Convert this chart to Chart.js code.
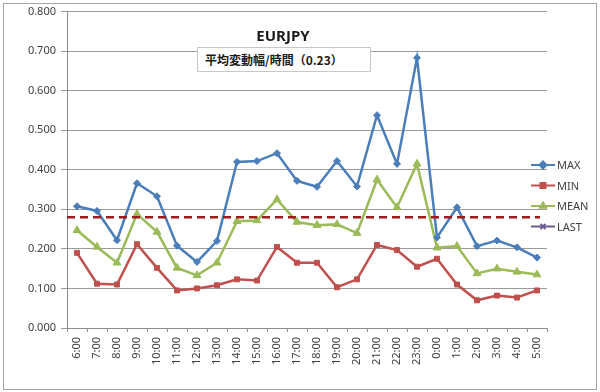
<!DOCTYPE html>
<html>
<head>
<meta charset="utf-8">
<script src="https://cdn.jsdelivr.net/npm/chart.js@4/dist/chart.umd.min.js"></script>
<style>
  body { margin: 0; background: #fff; }
  #wrap { position: relative; width: 600px; height: 392px; }
  #title {
    position: absolute; left: 230px; top: 25px; width: 106px; text-align: center;
    font: bold 15px "Noto Sans", "Open Sans", sans-serif; color: #1a1a1a;
  }
  #subtitle {
    position: absolute; left: 197px; top: 47px; width: 174px; height: 25px;
    border: 1px solid #c8c8c8; background: #fff; box-sizing: border-box;
    font: bold 12px "Noto Sans CJK JP", sans-serif; color: #1a1a1a;
    line-height: 23px; padding-left: 7px;
  }
</style>
</head>
<body>
<div id="wrap">
  <canvas id="fxChart" width="600" height="392"></canvas>
  <div id="title">EURJPY</div>
  <div id="subtitle">平均変動幅/時間（0.23）</div>
</div>
<script>
// 時間帯ラベル
const hours = ["6:00", "7:00", "8:00", "9:00", "10:00", "11:00", "12:00", "13:00",
  "14:00", "15:00", "16:00", "17:00", "18:00", "19:00", "20:00", "21:00",
  "22:00", "23:00", "0:00", "1:00", "2:00", "3:00", "4:00", "5:00"];

// 各系列の値
const maxValues = [0.308, 0.296, 0.222, 0.366, 0.333, 0.208, 0.167, 0.220,
  0.420, 0.422, 0.442, 0.372, 0.357, 0.422, 0.358, 0.538,
  0.415, 0.683, 0.229, 0.305, 0.207, 0.221, 0.204, 0.178];
const minValues = [0.190, 0.112, 0.110, 0.212, 0.152, 0.095, 0.100, 0.108,
  0.123, 0.120, 0.205, 0.165, 0.165, 0.103, 0.123, 0.210,
  0.197, 0.155, 0.175, 0.110, 0.070, 0.082, 0.077, 0.095];
const meanValues = [0.247, 0.205, 0.165, 0.288, 0.243, 0.152, 0.133, 0.165,
  0.270, 0.272, 0.325, 0.268, 0.260, 0.262, 0.240, 0.375,
  0.305, 0.415, 0.203, 0.207, 0.138, 0.150, 0.142, 0.135];
const lastValues = [];

// 基準線（破線）
const refLevel = 0.28;

const textColor = "#404040";
const tickFont = { family: "'Noto Sans', 'Open Sans', sans-serif", size: 11 };

// 背景と外枠
const frame = {
  id: "frame",
  beforeDraw(chart) {
    const c = chart.ctx;
    c.save();
    c.fillStyle = "#fff";
    c.fillRect(0, 0, chart.width, chart.height);
    c.strokeStyle = "#a6a6a6";
    c.lineWidth = 1;
    c.strokeRect(3.5, 3.5, 593, 386);
    c.restore();
  },
};

// 破線
const refLine = {
  id: "refLine",
  afterDatasetsDraw(chart) {
    const { ctx, chartArea } = chart;
    const y = chart.scales.y.getPixelForValue(refLevel);
    ctx.save();
    ctx.strokeStyle = "#9e1b1b";
    ctx.lineWidth = 2.5;
    ctx.setLineDash([8, 5]);
    ctx.beginPath();
    ctx.moveTo(chartArea.left, y);
    ctx.lineTo(chartArea.right - 7, y);
    ctx.stroke();
    ctx.restore();
  },
};

// 凡例（線＋マーカー）
const sideLegend = {
  id: "sideLegend",
  afterDraw(chart) {
    const ctx = chart.ctx;
    ctx.save();
    chart.data.datasets.forEach((ds, i) => {
      const y = 165 + i * 20.5;
      ctx.strokeStyle = ds.borderColor;
      ctx.lineWidth = 2;
      ctx.beginPath();
      ctx.moveTo(531, y);
      ctx.lineTo(555, y);
      ctx.stroke();
      ctx.fillStyle = ds.backgroundColor;
      Chart.helpers.drawPoint(ctx, {
        pointStyle: ds.pointStyle, radius: 3.5, rotation: 0, borderWidth: 1,
      }, 543, y);
      ctx.fillStyle = textColor;
      ctx.font = "11px 'Noto Sans', 'Open Sans', sans-serif";
      ctx.textBaseline = "middle";
      ctx.fillText(ds.label, 557, y + 1);
    });
    ctx.restore();
  },
};

function series(label, data, color, pointStyle) {
  return {
    label: label,
    data: data,
    borderColor: color,
    backgroundColor: color,
    borderWidth: 2.5,
    pointStyle: pointStyle,
    pointRadius: pointStyle === "triangle" ? 4.5 : 3.5,
    pointBorderWidth: 1,
    tension: 0,
  };
}

new Chart(document.getElementById("fxChart"), {
  type: "line",
  data: {
    labels: hours,
    datasets: [
      series("MAX", maxValues, "#4a7ebb", "rectRot"),
      series("MIN", minValues, "#c0504d", "rect"),
      series("MEAN", meanValues, "#9bbb59", "triangle"),
      series("LAST", lastValues, "#6b5b95", "crossRot"),
    ],
  },
  options: {
    responsive: false,
    animation: false,
    layout: { padding: { left: 7, right: 53, top: 10, bottom: 4 } },
    scales: {
      x: {
        offset: true,
        grid: { display: true, drawOnChartArea: false, offset: true, color: "#8c8c8c", tickLength: 4 },
        border: { color: "#8c8c8c" },
        ticks: {
          color: textColor, font: tickFont, padding: 5,
          maxRotation: 90, minRotation: 90, autoSkip: false,
        },
        afterFit: (s) => { s.height = 60; },
      },
      y: {
        min: 0,
        max: 0.8,
        grid: { color: "#9a9a9a", tickLength: 6 },
        border: { color: "#8c8c8c" },
        ticks: {
          stepSize: 0.1, color: textColor, font: tickFont, padding: 5,
          callback: (v) => v.toFixed(3),
        },
        afterFit: (s) => { s.width = 60; },
      },
    },
    plugins: {
      legend: { display: false },
      tooltip: { enabled: false },
    },
  },
  plugins: [frame, refLine, sideLegend],
});
</script>
</body>
</html>
